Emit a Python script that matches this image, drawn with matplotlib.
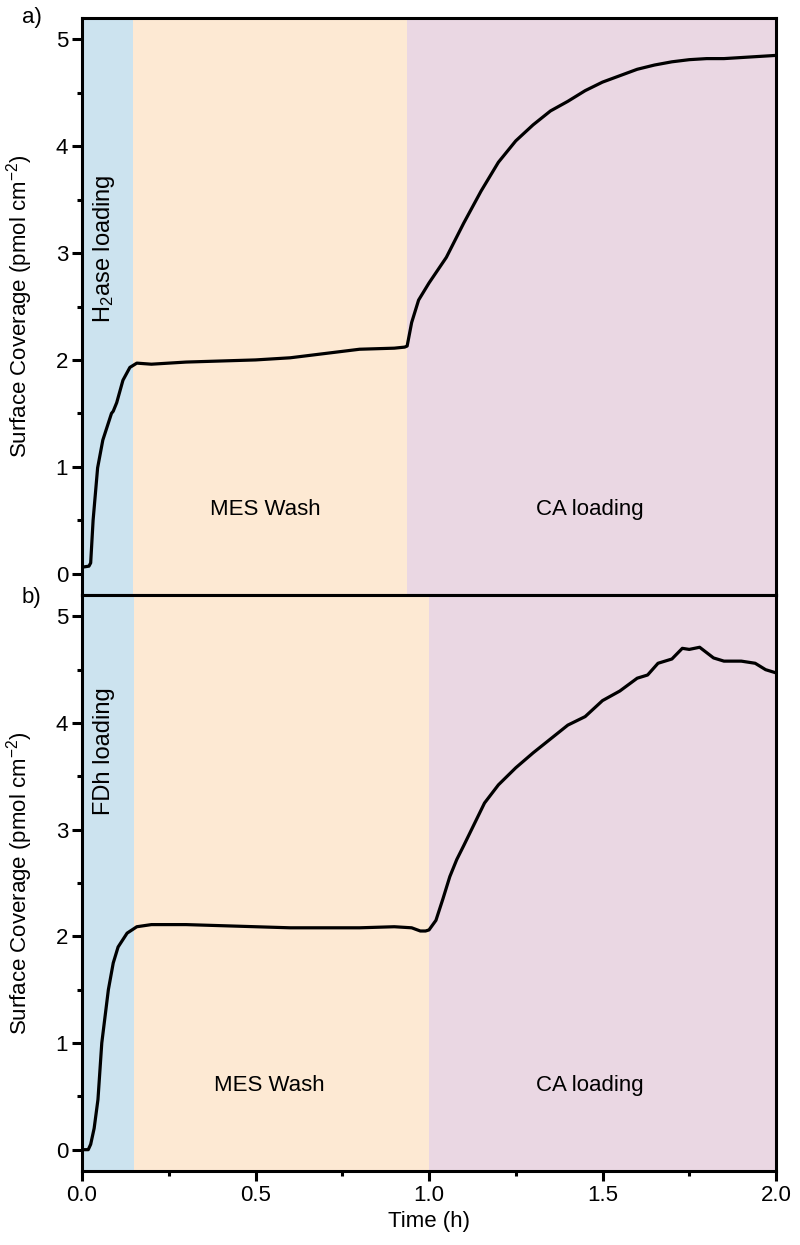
import matplotlib
matplotlib.use("Agg")
import matplotlib.pyplot as plt
import numpy as np

plt.rcParams['font.family'] = ['Liberation Sans', 'DejaVu Sans']
plt.rcParams['mathtext.fontset'] = 'custom'
plt.rcParams['mathtext.rm'] = 'Liberation Sans'
plt.rcParams['mathtext.it'] = 'Liberation Sans:italic'
plt.rcParams['mathtext.bf'] = 'Liberation Sans:bold'

# ---- data ----
# Panel a
t_a = [0.0, 0.02, 0.025, 0.032, 0.045, 0.06, 0.075, 0.085, 0.09, 0.1, 0.118, 0.138, 0.158,
       0.2, 0.3, 0.4, 0.5, 0.6, 0.7, 0.8, 0.9, 0.93, 0.937,
       0.95, 0.97, 1.0, 1.05, 1.1, 1.15, 1.2, 1.25, 1.3, 1.35, 1.4, 1.45, 1.5,
       1.55, 1.6, 1.65, 1.7, 1.75, 1.8, 1.85, 1.9, 1.95, 2.0]
y_a = [0.06, 0.07, 0.1, 0.5, 0.99, 1.25, 1.4, 1.5, 1.52, 1.6, 1.81, 1.93, 1.97,
       1.96, 1.98, 1.99, 2.0, 2.02, 2.06, 2.1, 2.11, 2.12, 2.13,
       2.35, 2.56, 2.72, 2.96, 3.28, 3.58, 3.85, 4.05, 4.2, 4.33, 4.42, 4.52, 4.6,
       4.66, 4.72, 4.76, 4.79, 4.81, 4.82, 4.82, 4.83, 4.84, 4.85]

# Panel b
t_b = [0.0, 0.018, 0.025, 0.035, 0.046, 0.057, 0.076, 0.09, 0.104, 0.13, 0.158,
       0.2, 0.3, 0.4, 0.5, 0.6, 0.7, 0.8, 0.9, 0.95, 0.975, 0.99, 1.0,
       1.02, 1.04, 1.06, 1.08, 1.1, 1.13, 1.16, 1.2, 1.25, 1.3, 1.35, 1.4, 1.45,
       1.5, 1.55, 1.6, 1.63, 1.66, 1.7, 1.73, 1.75, 1.78, 1.82, 1.85, 1.9, 1.94, 1.97, 2.0]
y_b = [0.0, 0.0, 0.05, 0.2, 0.47, 1.0, 1.5, 1.75, 1.9, 2.03, 2.09,
       2.11, 2.11, 2.1, 2.09, 2.08, 2.08, 2.08, 2.09, 2.08, 2.05, 2.05, 2.06,
       2.15, 2.35, 2.56, 2.72, 2.85, 3.05, 3.25, 3.42, 3.58, 3.72, 3.85, 3.98, 4.06,
       4.21, 4.3, 4.42, 4.45, 4.56, 4.6, 4.70, 4.69, 4.71, 4.61, 4.58, 4.58, 4.56, 4.5, 4.47]

# phase boundaries (h)
phases_a = [0.0, 0.147, 0.937, 2.0]
phases_b = [0.0, 0.15, 1.0, 2.0]
phase_colors = ['#cce3ef', '#fde9d3', '#ead7e3']
phase_names_a = ['H$_2$ase loading', 'MES Wash', 'CA loading']
phase_names_b = ['FDh loading', 'MES Wash', 'CA loading']

yticks = [0, 1, 2, 3, 4, 5]
xticks = [0.0, 0.5, 1.0, 1.5, 2.0]

fig = plt.figure(figsize=(8, 12.45), dpi=100)
W, H = 800, 1245
left, right = 82 / W, 776 / W
ax_a = fig.add_axes([left, 1 - 595 / H, right - left, (595 - 18) / H])
ax_b = fig.add_axes([left, 1 - 1171 / H, right - left, (1171 - 595) / H], sharex=ax_a)

FS = 16

def setup(ax, t, y, phases, names, first_y, mid_x, ca_x):
    for i in range(3):
        ax.axvspan(phases[i], phases[i + 1], color=phase_colors[i], lw=0, zorder=0)
    ax.plot(t, y, color='black', lw=2.3, zorder=3)
    ax.set_xlim(0, 2.0)
    ax.set_ylim(-0.2, 5.2)
    ax.set_yticks(yticks)
    ax.set_yticks(np.arange(0.5, 5.0, 1.0), minor=True)
    ax.set_xticks(xticks)
    ax.set_xticks([0.25, 0.75, 1.25, 1.75], minor=True)
    for s in ax.spines.values():
        s.set_linewidth(2.2)
    ax.tick_params(which='major', direction='out', length=7, width=2.2, labelsize=FS, pad=3)
    ax.tick_params(which='minor', direction='out', length=3.6, width=2.2)
    ax.tick_params(top=False, right=False, which='both')
    ax.set_ylabel('Surface Coverage (pmol cm$^{-2}$)', fontsize=FS)
    ax.yaxis.set_label_coords(-0.068, 0.5)
    ax.text(0.062, first_y, names[0], rotation=90, ha='center', va='center', fontsize=FS + 1)
    ax.text(mid_x, 0.6, names[1], ha='center', va='center', fontsize=FS)
    ax.text(ca_x, 0.6, names[2], ha='center', va='center', fontsize=FS)

setup(ax_a, t_a, y_a, phases_a, phase_names_a, 3.04, 0.527, 1.464)
setup(ax_b, t_b, y_b, phases_b, phase_names_b, 3.74, 0.54, 1.464)

ax_a.tick_params(axis='x', which='both', bottom=False, labelbottom=False)
ax_b.set_xlabel('Time (h)', fontsize=FS, labelpad=4)

fig.text(22 / W, 1 - 18 / H, 'a)', fontsize=FS, ha='left', va='center')
fig.text(22 / W, 1 - 598 / H, 'b)', fontsize=FS, ha='left', va='center')

fig.savefig('out.png', dpi=100)
